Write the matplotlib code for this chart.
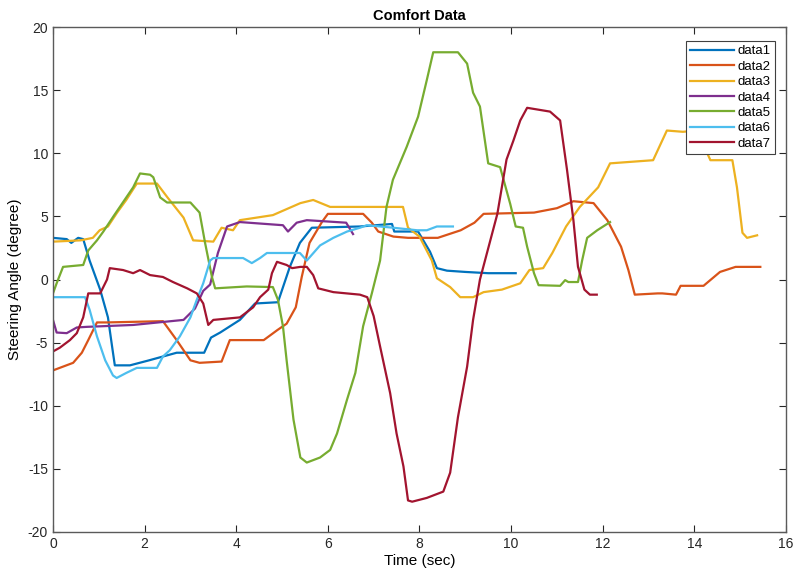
import matplotlib
matplotlib.use("Agg")
import matplotlib.pyplot as plt

plt.rcParams['font.family'] = ['Liberation Sans', 'DejaVu Sans']
plt.rcParams['axes.unicode_minus'] = False

# data (time in sec, steering angle in degree)
t1 = [0, 0.3, 0.4, 0.55, 0.66, 0.8, 1.03, 1.2, 1.29, 1.35, 1.68, 2.1, 2.4, 2.7, 3.3, 3.45, 3.65, 4.08, 4.41,
      4.91, 5.17, 5.39, 5.65, 6.7, 7.4, 7.45, 7.97, 8.1, 8.23, 8.38, 8.6, 9.0, 9.5, 10.1]
a1 = [3.3, 3.2, 2.9, 3.3, 3.2, 1.5, -0.8, -3.0, -5.3, -6.8, -6.8, -6.4, -6.1, -5.8, -5.8, -4.6, -4.2, -3.2, -1.9,
      -1.8, 1.0, 2.9, 4.1, 4.2, 4.4, 3.8, 3.8, 3.0, 2.2, 0.9, 0.7, 0.6, 0.5, 0.5]

t2 = [0, 0.22, 0.44, 0.63, 0.77, 0.96, 1.18, 2.4, 2.7, 3.0, 3.2, 3.68, 3.86, 4.6, 4.9, 5.1, 5.3, 5.43, 5.6, 5.87,
      6.0, 6.77, 6.96, 7.1, 7.43, 7.75, 8.4, 8.9, 9.2, 9.4, 10.5, 11.0, 11.36, 11.8, 12.1, 12.4, 12.56, 12.7,
      13.2, 13.3, 13.6, 13.7, 14.2, 14.56, 14.9, 15.44]
a2 = [-7.2, -6.9, -6.6, -5.8, -4.8, -3.4, -3.4, -3.3, -4.8, -6.4, -6.6, -6.5, -4.8, -4.8, -4.0, -3.5, -2.2, 0.2,
      2.9, 4.55, 5.2, 5.2, 4.5, 3.8, 3.4, 3.3, 3.3, 3.9, 4.5, 5.2, 5.3, 5.65, 6.2, 6.05, 4.7, 2.6, 0.75, -1.2,
      -1.1, -1.1, -1.2, -0.5, -0.5, 0.6, 1.0, 1.0]

t3 = [0, 0.6, 0.87, 1.02, 1.2, 1.4, 1.6, 1.83, 2.27, 2.5, 2.85, 3.06, 3.5, 3.68, 3.93, 4.08, 4.8, 5.4, 5.68,
      6.05, 7.64, 7.75, 8.0, 8.27, 8.38, 8.67, 8.89, 9.17, 9.4, 9.8, 10.2, 10.4, 10.7, 10.9, 11.2, 11.5, 11.9,
      12.16, 13.1, 13.4, 13.75, 14.06, 14.35, 14.83, 14.93, 15.05, 15.15, 15.37]
a3 = [3.0, 3.1, 3.3, 3.9, 4.2, 5.3, 6.3, 7.6, 7.6, 6.5, 4.9, 3.1, 3.0, 4.1, 3.9, 4.7, 5.1, 6.05, 6.3,
      5.75, 5.75, 4.1, 3.4, 1.5, 0.1, -0.6, -1.4, -1.4, -1.0, -0.8, -0.3, 0.75, 0.9, 2.1, 4.2, 5.75, 7.3,
      9.2, 9.45, 11.8, 11.7, 11.8, 9.45, 9.45, 7.3, 3.7, 3.3, 3.5]

t4 = [0, 0.08, 0.3, 0.52, 0.74, 1.75, 2.85, 3.1, 3.28, 3.43, 3.6, 3.8, 4.08, 5.02, 5.13, 5.32, 5.54, 6.4, 6.55]
a4 = [-3.2, -4.2, -4.25, -3.8, -3.75, -3.6, -3.2, -2.3, -0.9, -0.4, 2.1, 4.2, 4.55, 4.3, 3.8, 4.5, 4.7, 4.5, 3.6]

t5 = [0, 0.08, 0.22, 0.66, 0.77, 0.96, 1.1, 1.31, 1.6, 1.75, 1.9, 2.12, 2.19, 2.34, 2.49, 3.0, 3.2, 3.32,
      3.47, 3.54, 4.23, 4.8, 4.91, 5.02, 5.1, 5.25, 5.4, 5.54, 5.83, 6.05, 6.2, 6.42, 6.6, 6.77, 6.96, 7.14,
      7.28, 7.42, 7.72, 7.97, 8.16, 8.3, 8.84, 9.04, 9.17, 9.32, 9.5, 9.76, 9.98, 10.1, 10.26, 10.35, 10.5,
      10.6, 11.07, 11.18, 11.25, 11.46, 11.55, 11.66, 11.88, 12.16]
a5 = [-1.1, -0.3, 1.0, 1.15, 2.3, 3.1, 3.8, 4.95, 6.5, 7.3, 8.4, 8.3, 8.1, 6.5, 6.1, 6.1, 5.3, 2.9,
      0.2, -0.7, -0.55, -0.6, -1.6, -3.7, -6.4, -11.1, -14.1, -14.5, -14.1, -13.5, -12.2, -9.5, -7.4, -3.7,
      -1.1, 1.5, 5.75, 7.9, 10.5, 12.9, 15.8, 18.0, 18.0, 17.1, 14.8, 13.7, 9.2, 8.9, 6.0, 4.2, 4.1, 2.6,
      0.5, -0.45, -0.5, -0.05, -0.2, -0.2, 1.5, 3.3, 3.9, 4.55]

t6 = [0, 0.7, 0.8, 0.96, 1.14, 1.31, 1.39, 1.6, 1.83, 2.27, 2.4, 2.55, 2.77, 3.0, 3.14, 3.28, 3.43, 3.5, 4.15,
      4.34, 4.52, 4.67, 5.39, 5.54, 5.83, 6.12, 6.42, 6.7, 6.85, 7.43, 7.95, 8.16, 8.38, 8.73]
a6 = [-1.4, -1.4, -2.4, -4.5, -6.4, -7.6, -7.8, -7.4, -7.0, -7.0, -6.1, -5.6, -4.5, -3.0, -1.6, -0.3, 1.5, 1.7,
      1.7, 1.3, 1.7, 2.1, 2.1, 1.5, 2.7, 3.3, 3.8, 4.1, 4.3, 4.1, 3.9, 3.9, 4.2, 4.2]

t7 = [0, 0.15, 0.37, 0.52, 0.66, 0.77, 1.03, 1.18, 1.24, 1.53, 1.75, 1.9, 2.12, 2.4, 2.62, 2.93, 3.14, 3.28,
      3.39, 3.5, 4.08, 4.37, 4.52, 4.7, 4.78, 4.89, 5.1, 5.22, 5.4, 5.54, 5.68, 5.79, 6.12, 6.7, 6.86, 7.0,
      7.14, 7.36, 7.5, 7.65, 7.75, 7.84, 8.16, 8.52, 8.67, 8.84, 9.04, 9.17, 9.32, 9.7, 9.9,
      10.05, 10.2, 10.35, 10.85, 11.07, 11.22, 11.36, 11.46, 11.5, 11.6, 11.72, 11.87]
a7 = [-5.7, -5.4, -4.8, -4.25, -3.0, -1.1, -1.1, 0.0, 0.9, 0.75, 0.5, 0.75, 0.35, 0.2, -0.2, -0.7, -1.1, -1.9,
      -3.6, -3.2, -3.0, -2.2, -1.4, -0.8, 0.5, 1.4, 1.15, 0.9, 1.0, 1.0, 0.35, -0.7, -1.0, -1.2, -1.4, -2.9,
      -5.3, -9.0, -12.2, -14.8, -17.5, -17.6, -17.3, -16.8, -15.3, -10.9, -6.9, -3.2, 0.0, 5.2, 9.5,
      11.0, 12.6, 13.6, 13.3, 12.6, 8.7, 4.7, 1.0, 0.5, -0.8, -1.2, -1.2]

times = [t1, t2, t3, t4, t5, t6, t7]
angles = [a1, a2, a3, a4, a5, a6, a7]
labels = ["data1", "data2", "data3", "data4", "data5", "data6", "data7"]
colors = ["#0072BD", "#D95319", "#EDB120", "#7E2F8E", "#77AC30", "#4DBEEE", "#A2142F"]

fig = plt.figure(figsize=(7.99, 5.76), dpi=100)
ax = fig.add_axes([0.0663, 0.0764, 0.9174, 0.8767])

for t, a, lab, c in zip(times, angles, labels, colors):
    ax.plot(t, a, color=c, lw=1.6, label=lab)

ax.set_xlim(0, 16)
ax.set_ylim(-20, 20)
ax.set_xticks(range(0, 17, 2))
ax.set_yticks(range(-20, 21, 5))
ax.tick_params(direction='in', top=True, right=True, labelsize=10, colors='#262626', length=5)
for s in ax.spines.values():
    s.set_color('#5a5a5a')
    s.set_linewidth(1.0)

ax.set_title("Comfort Data", fontsize=10.5, fontweight='bold', pad=5)
ax.set_xlabel("Time (sec)", fontsize=11, labelpad=2)
ax.set_ylabel("Steering Angle (degree)", fontsize=11, labelpad=4)

leg = ax.legend(loc='upper right', bbox_to_anchor=(0.985, 0.972), borderaxespad=0, fontsize=9.5,
                handlelength=3.3, handletextpad=0.3, labelspacing=0.24, borderpad=0.3,
                fancybox=False, framealpha=1)
leg.get_frame().set_edgecolor('#404040')
leg.get_frame().set_linewidth(0.8)

fig.savefig("out.png", dpi=100)
